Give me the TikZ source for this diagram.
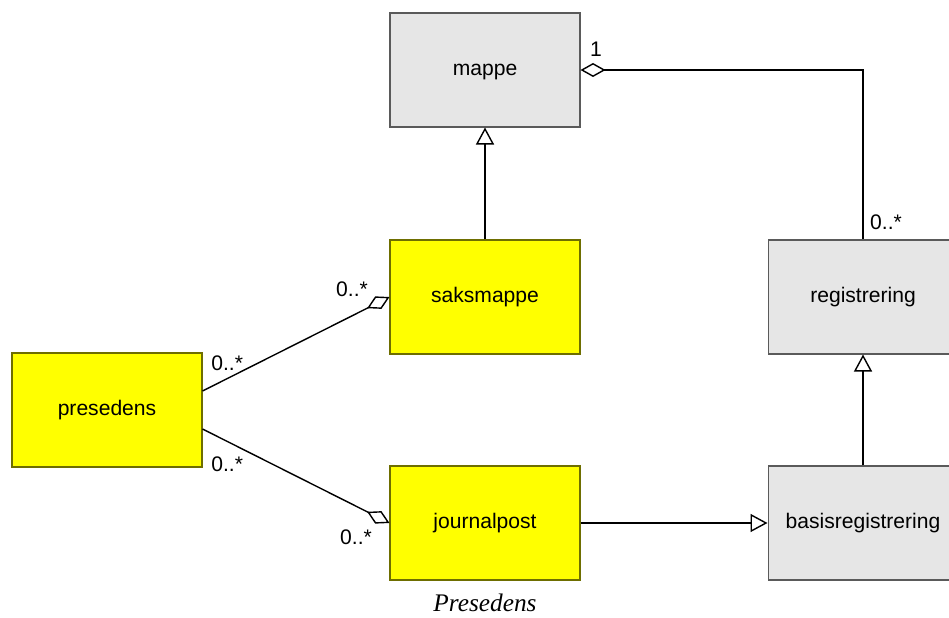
\documentclass[tikz,border=0pt]{standalone}
\usepackage{fontspec}
\setmainfont{Liberation Sans}
\newfontfamily\captionfont{Liberation Serif}
\usetikzlibrary{arrows.meta}
\definecolor{gulfyll}{HTML}{FFFF00}
\definecolor{gulkant}{HTML}{6E6E00}
\definecolor{graafyll}{HTML}{E6E6E6}
\definecolor{graakant}{HTML}{5A5A5A}
\tikzset{klasse/.style={minimum width=3.8cm,minimum height=2.28cm,line width=0.6pt,inner sep=0pt,text height=6.8pt,text depth=0pt,font=\fontsize{12}{14}\selectfont},
 gul/.style={klasse,fill=gulfyll,draw=gulkant},
 graa/.style={klasse,fill=graafyll,draw=graakant},
 kant/.style={line width=0.8pt},
 arv/.style={kant,-{Triangle[open,length=0.34cm,width=0.36cm]}},
 aggr/.style={kant,{Diamond[open,length=0.5cm,width=0.28cm]}-},
 mult/.style={font=\fontsize{12}{14}\selectfont,inner sep=0pt},
 }

\begin{document}
\begin{tikzpicture}[x=0.02cm,y=-0.02cm]
        \useasboundingbox (0,0) rectangle (949,618);
        \node[graa] (mappe) at (485, 70) {mappe};
        \node[gul] (saksmappe) at (485, 297) {saksmappe};
        \node[graa] (registrering) at (863, 297) {registrering};
        \node[gul] (presedens) at (107, 410) {presedens};
        \node[gul] (journalpost) at (485, 523) {journalpost};
        \node[graa] (basisregistrering) at (863, 523) {basisregistrering};
        % arv
        \draw[arv] (saksmappe) -- (mappe);
        \draw[arv] (basisregistrering) -- (registrering);
        \draw[arv] (journalpost) -- (basisregistrering);
        % aggregering
        \draw[aggr] (mappe.east) -| (registrering.north);
        \draw[aggr] (saksmappe.west) -- ([yshift=0.38cm]presedens.east);
        \draw[aggr] (journalpost.west) -- ([yshift=-0.38cm]presedens.east);
        \node[mult] (m1) at (596, 49) {1};
        \node[mult] (m2) at (886, 222) {0..*};
        \node[mult] (m3) at (352, 289) {0..*};
        \node[mult,anchor=west] (m4) at (211, 363) {0..*};
        \node[mult,anchor=west] (m5) at (211, 464) {0..*};
        \node[mult] (m6) at (356, 537) {0..*};
        \node[inner sep=0pt] (tittel) at (485, 603) {\captionfont\itshape\fontsize{14.4}{16}\selectfont Presedens};
    \end{tikzpicture}
\end{document}
